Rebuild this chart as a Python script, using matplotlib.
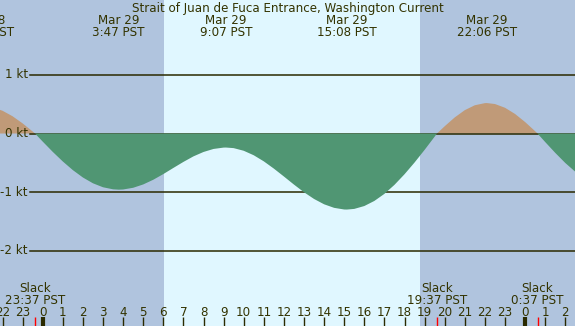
import numpy as np
import matplotlib.pyplot as plt
import matplotlib.transforms as mtransforms

# current speed (kt), hours from Mar 29 00:00 PST
hours = [-2.5, -2.0, -1.5, -1.0, -0.5, -0.383, 0.0, 0.5, 1.0, 1.5, 2.0, 2.5, 3.0, 3.5,
         3.783, 4.0, 4.5, 5.0, 5.5, 6.0, 6.5, 7.0, 7.5, 8.0, 8.5, 9.0, 9.117, 9.5,
         10.0, 10.5, 11.0, 11.5, 12.0, 12.5, 13.0, 13.5, 14.0, 14.5, 15.0, 15.133,
         15.5, 16.0, 16.5, 17.0, 17.5, 18.0, 18.5, 19.0, 19.5, 19.617, 20.0, 20.5,
         21.0, 21.5, 22.0, 22.1, 22.5, 23.0, 23.5, 24.0, 24.5, 24.617, 25.0, 25.5,
         26.0, 26.5]
speeds = [0.446, 0.389, 0.295, 0.173, 0.034, 0.0, -0.138, -0.314, -0.478, -0.626,
          -0.752, -0.851, -0.919, -0.954, -0.96, -0.957, -0.928, -0.871, -0.791,
          -0.694, -0.589, -0.486, -0.391, -0.316, -0.264, -0.241, -0.24, -0.250,
          -0.295, -0.372, -0.476, -0.600, -0.735, -0.873, -1.004, -1.119, -1.210,
          -1.271, -1.299, -1.30, -1.289, -1.240, -1.153, -1.032, -0.878, -0.697,
          -0.496, -0.280, -0.054, 0.0, 0.124, 0.275, 0.399, 0.483, 0.519, 0.52,
          0.504, 0.440, 0.334, 0.196, 0.039, 0.0, -0.146, -0.331, -0.504, -0.655]

# max/min events shown on top
event_hours = [-2.9, 3.783, 9.117, 15.133, 22.1]
event_dates = ["Mar 28", "Mar 29", "Mar 29", "Mar 29", "Mar 29"]
event_times = ["21:06 PST", "3:47 PST", "9:07 PST", "15:08 PST", "22:06 PST"]

# slack events shown at bottom
slack_hours = [-0.383, 19.617, 24.617]
slack_times = ["23:37 PST", "19:37 PST", "0:37 PST"]

kt_levels = [1, 0, -1, -2]
sunrise, sunset = 6.03, 18.77

night = '#b0c4de'
day = '#e0f7ff'
flood = '#c09a78'
ebb = '#509673'
ink = '#333300'
rule = '#2a2a00'

W, H = 575, 326
fig = plt.figure(figsize=(W / 100, H / 100), dpi=100)
ax = fig.add_axes([0, 0, 1, 1])
x0, px_h = 42.7, 20.1
y0, px_kt = 133.5, 58.5
ax.set_xlim(-x0 / px_h, (W - x0) / px_h)
ax.set_ylim(-(H - y0) / px_kt, y0 / px_kt)
ax.set_facecolor(night)
for s in ax.spines.values():
    s.set_visible(False)
ax.set_xticks([])
ax.set_yticks([])

ax.axvspan(sunrise, sunset, color=day, lw=0, zorder=0)

h = np.array(hours)
v = np.array(speeds)
ax.fill_between(h, v, 0, where=v >= 0, interpolate=True, color=flood, lw=0, zorder=1)
for k in kt_levels:
    ax.axhline(k, xmin=30 / W, color=rule, lw=1.1, zorder=2)
    ax.text(28 / W, k, "%d kt" % k, transform=ax.get_yaxis_transform(),
            ha='right', va='center', fontsize=8.6, color=ink)
ax.fill_between(h, v, 0, where=v <= 0, interpolate=True, color=ebb, lw=0, zorder=3)


def fy(py):
    return 1 - py / H


bt = mtransforms.blended_transform_factory(ax.transData, fig.transFigure)

fig.text(0.5, fy(11.7), "Strait of Juan de Fuca Entrance, Washington Current",
         ha='center', va='baseline', fontsize=8.6, color=ink)
for eh, ed, et in zip(event_hours, event_dates, event_times):
    ax.text(eh, fy(24), ed, transform=bt, ha='center', va='baseline', fontsize=8.6, color=ink)
    ax.text(eh, fy(36), et, transform=bt, ha='center', va='baseline', fontsize=8.6, color=ink)
for sh, st in zip(slack_hours, slack_times):
    ax.text(sh, fy(291.7), "Slack", transform=bt, ha='center', va='baseline', fontsize=8.6, color=ink)
    ax.text(sh, fy(304), st, transform=bt, ha='center', va='baseline', fontsize=8.6, color=ink)

# hour ticks
for hr in range(-2, 27):
    ax.text(hr, fy(316), str(hr % 24), transform=bt, ha='center', va='baseline',
            fontsize=8.6, color=ink)
    ax.plot([hr, hr], [fy(317), fy(326)], transform=bt, color=rule,
            lw=3 if hr % 24 == 0 else 1, solid_capstyle='butt', zorder=5)
for sh in slack_hours:
    ax.plot([sh, sh], [fy(317), fy(326)], transform=bt, color='red', lw=1,
            solid_capstyle='butt', zorder=5)

fig.savefig('out.png', dpi=100)
